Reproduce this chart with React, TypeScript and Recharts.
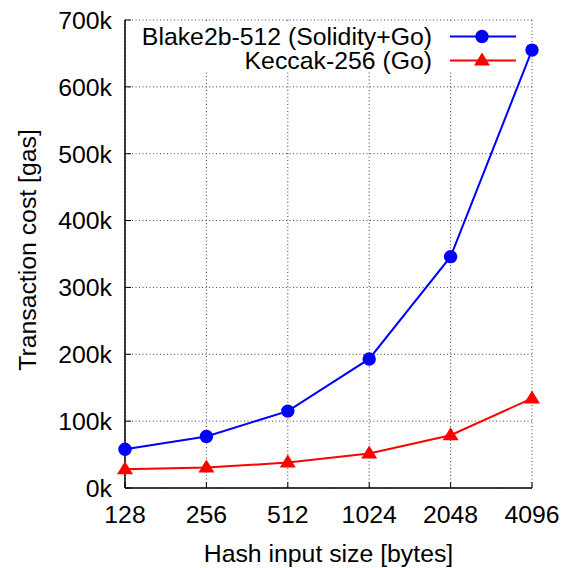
import React from "react";
import {
  LineChart,
  Line,
  XAxis,
  YAxis,
  CartesianGrid,
  Legend,
} from "recharts";

const sizes = ["128", "256", "512", "1024", "2048", "4096"];
const blake = [58000, 77000, 115000, 193000, 346000, 655000];
const keccak = [28000, 30500, 38000, 51500, 79000, 134000];
const yTicks = [0, 100000, 200000, 300000, 400000, 500000, 600000, 700000];

const data = sizes.map((s, i) => ({ size: s, blake: blake[i], keccak: keccak[i] }));

const FONT = "'Liberation Sans', Arial, sans-serif";
const FS = 24.8;

const Triangle = (props: any) => {
  const { cx, cy, fill } = props;
  if (cx == null || cy == null) return null;
  return (
    <path
      d={`M${cx},${cy - 8} L${cx + 8},${cy + 5} L${cx - 8},${cy + 5} Z`}
      fill={fill}
    />
  );
};

const Circle = (props: any) => {
  const { cx, cy, fill } = props;
  if (cx == null || cy == null) return null;
  return <circle cx={cx} cy={cy} r={6.7} fill={fill} />;
};

const LegendContent = () => {
  const rows = [
    { name: "Blake2b-512 (Solidity+Go)", color: "#0000ff", shape: "circle" },
    { name: "Keccak-256 (Go)", color: "#ff0000", shape: "triangle" },
  ];
  return (
    <svg width={395} height={54} style={{ overflow: "visible", display: "block" }}>
      <rect x={1} y={1.5} width={388} height={50} fill="#fff" />
      {rows.map((r, i) => {
        const y = 16.5 + i * 24;
        return (
          <g key={r.name}>
            <text
              x={307}
              y={y}
              textAnchor="end"
              dominantBaseline="central"
              fontFamily={FONT}
              fontSize={FS}
              fill="#000"
            >
              {r.name}
            </text>
            <line x1={325} x2={391} y1={y} y2={y} stroke={r.color} strokeWidth={2} />
            {r.shape === "circle" ? (
              <Circle cx={357} cy={y} fill={r.color} />
            ) : (
              <Triangle cx={357} cy={y} fill={r.color} />
            )}
          </g>
        );
      })}
    </svg>
  );
};

export default function App() {
  return (
    <div style={{ position: "absolute", left: 0, top: 0, width: 571, height: 568, background: "#fff" }}>
      <LineChart
        width={571}
        height={568}
        data={data}
        margin={{ top: 20, right: 39, left: 0, bottom: 0 }}
      >
        <CartesianGrid stroke="#444" strokeDasharray="1 2.5" strokeWidth={1} />
        <XAxis
          dataKey="size"
          height={80}
          stroke="#000"
          tickSize={-6}
          tickMargin={23}
          tick={{ fontFamily: FONT, fontSize: FS, fill: "#000" }}
          axisLine={{ stroke: "#000", strokeWidth: 1.5 }}
          tickLine={{ stroke: "#000" }}
          label={{
            value: "Hash input size [bytes]",
            position: "insideBottom",
            offset: 6,
            style: { fontFamily: FONT, fontSize: FS, fill: "#000" },
          }}
        />
        <XAxis
          xAxisId="top"
          dataKey="size"
          orientation="top"
          height={0}
          tickSize={-6}
          tick={false}
          tickLine={{ stroke: "#000" }}
          axisLine={{ stroke: "#000", strokeWidth: 1.5 }}
        />
        <YAxis
          width={125}
          domain={[0, 700000]}
          ticks={yTicks}
          interval={0}
          tickSize={-6}
          tickMargin={19}
          tickFormatter={(v: number) => `${v / 1000}k`}
          tick={{ fontFamily: FONT, fontSize: FS, fill: "#000" }}
          axisLine={{ stroke: "#000", strokeWidth: 1.5 }}
          tickLine={{ stroke: "#000" }}
          label={{
            value: "Transaction cost [gas]",
            angle: -90,
            position: "insideLeft",
            offset: 27,
            dy: -4,
            style: { fontFamily: FONT, fontSize: FS, fill: "#000", textAnchor: "middle" },
          }}
        />
        <YAxis
          yAxisId="right"
          orientation="right"
          width={0}
          domain={[0, 700000]}
          ticks={yTicks}
          interval={0}
          tickSize={-6}
          tick={false}
          tickLine={{ stroke: "#000" }}
          axisLine={{ stroke: "#000", strokeWidth: 1.5 }}
        />
        <Legend
          layout="vertical"
          verticalAlign="middle"
          align="center"
          content={<LegendContent />}
          wrapperStyle={{ position: "absolute", left: 125, top: 20, width: 395, height: 54 }}
        />
        <Line
          type="linear"
          dataKey="blake"
          stroke="#0000ff"
          strokeWidth={2}
          dot={<Circle fill="#0000ff" />}
          isAnimationActive={false}
        />
        <Line
          type="linear"
          dataKey="keccak"
          stroke="#ff0000"
          strokeWidth={2}
          dot={<Triangle fill="#ff0000" />}
          isAnimationActive={false}
        />
      </LineChart>
    </div>
  );
}
